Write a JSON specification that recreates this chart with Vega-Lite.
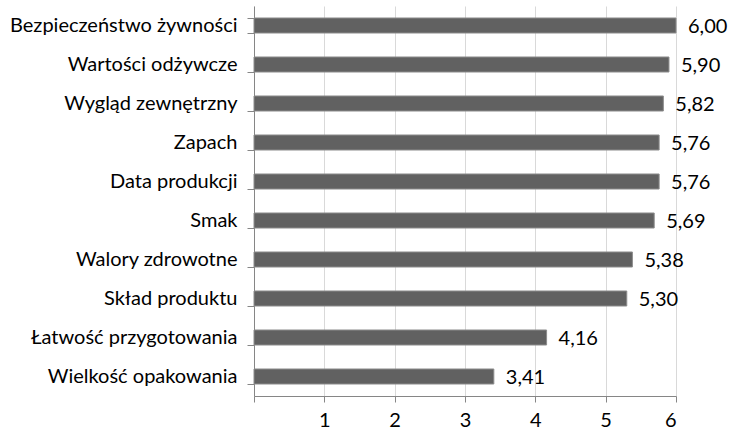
{
  "$schema": "https://vega.github.io/schema/vega-lite/v6.json",
  "autosize": "none",
  "width": 422,
  "height": 390,
  "padding": {"left": 254, "top": 6, "right": 53, "bottom": 34},
  "background": "white",
  "data": {
    "values": [
      {"kategoria": "Bezpieczeństwo żywności", "ocena": 6.00},
      {"kategoria": "Wartości odżywcze", "ocena": 5.90},
      {"kategoria": "Wygląd zewnętrzny", "ocena": 5.82},
      {"kategoria": "Zapach", "ocena": 5.76},
      {"kategoria": "Data produkcji", "ocena": 5.76},
      {"kategoria": "Smak", "ocena": 5.69},
      {"kategoria": "Walory zdrowotne", "ocena": 5.38},
      {"kategoria": "Skład produktu", "ocena": 5.30},
      {"kategoria": "Łatwość przygotowania", "ocena": 4.16},
      {"kategoria": "Wielkość opakowania", "ocena": 3.41}
    ]
  },
  "encoding": {
    "y": {
      "field": "kategoria",
      "type": "nominal",
      "sort": null,
      "title": null,
      "scale": {"paddingInner": 0.615, "paddingOuter": 0.3075},
      "axis": {
        "tickBand": "extent",
        "tickSize": 7,
        "tickColor": "#868686",
        "domainColor": "#868686",
        "labelPadding": 10,
        "labelLimit": 0,
        "labelFont": "Lato",
        "labelFontSize": 20,
        "labelColor": "#000000",
        "grid": false
      }
    },
    "x": {
      "field": "ocena",
      "type": "quantitative",
      "title": null,
      "scale": {"domain": [0, 6], "nice": false, "zero": true},
      "axis": {
        "values": [0, 1, 2, 3, 4, 5, 6],
        "labelExpr": "datum.value == 0 ? '' : datum.label",
        "tickSize": 6,
        "tickColor": "#868686",
        "domainColor": "#868686",
        "gridColor": "#d9d9d9",
        "grid": true,
        "labelPadding": 8,
        "labelFont": "Lato",
        "labelFontSize": 20,
        "labelColor": "#000000"
      }
    }
  },
  "layer": [
    {
      "mark": {"type": "bar", "color": "#616161", "stroke": "#8c8c8c", "strokeWidth": 1}
    },
    {
      "mark": {"type": "text", "align": "left", "baseline": "middle", "dx": 12, "dy": 1, "font": "Lato", "fontSize": 20, "color": "#000000"},
      "encoding": {
        "text": {"field": "ocena", "type": "quantitative", "format": ".2f"}
      }
    }
  ],
  "config": {
    "view": {"stroke": null},
    "locale": {
      "number": {"decimal": ",", "thousands": " ", "grouping": [3], "currency": ["", " zł"]}
    }
  }
}
